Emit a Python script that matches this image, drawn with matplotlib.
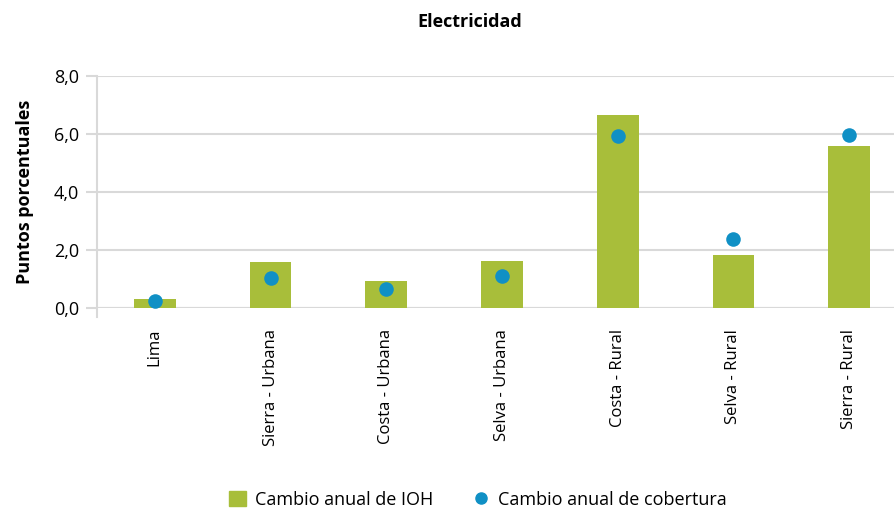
import matplotlib.pyplot as plt
import numpy as np
from matplotlib.lines import Line2D
from matplotlib.patches import Patch

plt.rcParams['font.family'] = ['Open Sans', 'DejaVu Sans']

categories = ["Lima", "Sierra - Urbana", "Costa - Urbana", "Selva - Urbana",
              "Costa - Rural", "Selva - Rural", "Sierra - Rural"]
ioh_change = [0.31, 1.59, 0.93, 1.62, 6.66, 1.83, 5.59]
coverage_change = [0.24, 1.04, 0.67, 1.10, 5.93, 2.37, 5.98]
y_ticks = [0, 2, 4, 6, 8]

green = "#a8be3a"
blue = "#1090c5"
grid_col = "#d9d9d9"

fig = plt.figure(figsize=(8.94, 5.11), dpi=100)
# axis is wider than the figure on purpose: gridlines run off the right edge
ax = fig.add_axes([97 / 894, 1 - 308 / 511, 810 / 894, 232 / 511])

x = np.arange(len(categories))
ax.bar(x, ioh_change, width=0.36, color=green, zorder=2)
ax.scatter(x, coverage_change, s=110, color=blue, zorder=3, linewidths=0)

ax.set_xlim(-0.5, len(categories) - 0.5)
ax.set_ylim(0, 8)
ax.set_yticks(y_ticks)
ax.set_yticklabels([f"{v:.1f}".replace(".", ",") for v in y_ticks], fontsize=13)
ax.set_xticks(x)
ax.set_xticklabels(categories, rotation=90, fontsize=12)
ax.tick_params(axis="x", length=0, pad=15)
ax.tick_params(axis="y", length=8, color=grid_col, width=1.5, pad=5)
ax.yaxis.grid(True, color=grid_col, linewidth=1.5, zorder=0)

for s in ["top", "right", "bottom"]:
    ax.spines[s].set_visible(False)
ax.spines["left"].set_color(grid_col)
ax.spines["left"].set_linewidth(1.5)
ax.spines["left"].set_bounds(-0.3, 8)
ax.axhline(0, color=grid_col, linewidth=1.5, zorder=1)

ax.set_ylabel("Puntos porcentuales", fontsize=13, fontweight="bold", labelpad=14)
fig.text(470 / 894, 1 - 22 / 511, "Electricidad", ha="center", va="center",
         fontsize=13, fontweight="bold")

handles = [Patch(color=green),
           Line2D([], [], marker="o", linestyle="none", color=blue, markersize=8)]
labels = ["Cambio anual de IOH", "Cambio anual de cobertura"]
fig.legend(handles, labels, loc="center", bbox_to_anchor=(478 / 894, 1 - 500 / 511),
           ncol=2, frameon=False, fontsize=13, handlelength=0.9, handleheight=0.9,
           columnspacing=2.2, handletextpad=0.5, borderpad=0)

fig.savefig("out.png", dpi=100)
